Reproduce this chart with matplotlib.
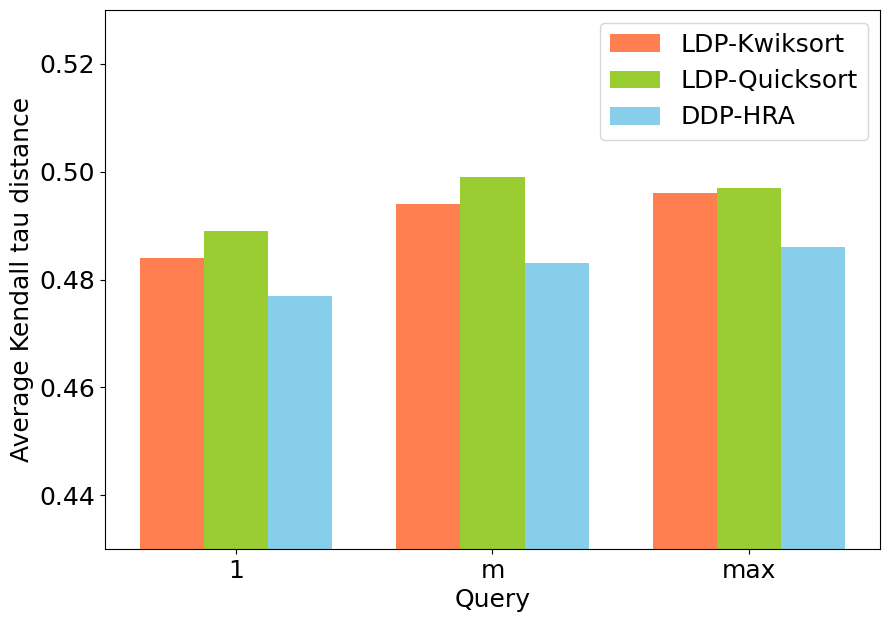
import matplotlib
matplotlib.use("Agg")
import matplotlib.pyplot as plt
import numpy as np

queries = ["1", "m", "max"]
series_names = ["LDP-Kwiksort", "LDP-Quicksort", "DDP-HRA"]
kwiksort = [0.484, 0.494, 0.496]
quicksort = [0.489, 0.499, 0.497]
hra = [0.477, 0.483, 0.486]
colors = ["coral", "yellowgreen", "skyblue"]

plt.rcParams['font.size'] = 18
fig = plt.figure(figsize=(8.89, 6.22), dpi=100)
ax = fig.add_axes([105/889, 1 - 549/622, 775/889, 539/622])

x = np.arange(len(queries))
w = 0.25
for i, (vals, name, c) in enumerate(zip([kwiksort, quicksort, hra], series_names, colors)):
    ax.bar(x + (i - 1) * w, vals, w, label=name, color=c)

ax.set_ylim(0.43, 0.53)
ax.set_yticks([0.44, 0.46, 0.48, 0.50, 0.52])
ax.set_xticks(x)
ax.set_xticklabels(queries)
ax.set_xlabel("Query")
ax.set_ylabel("Average Kendall tau distance")
ax.legend(loc="upper right")

fig.savefig("out.png", dpi=100)
